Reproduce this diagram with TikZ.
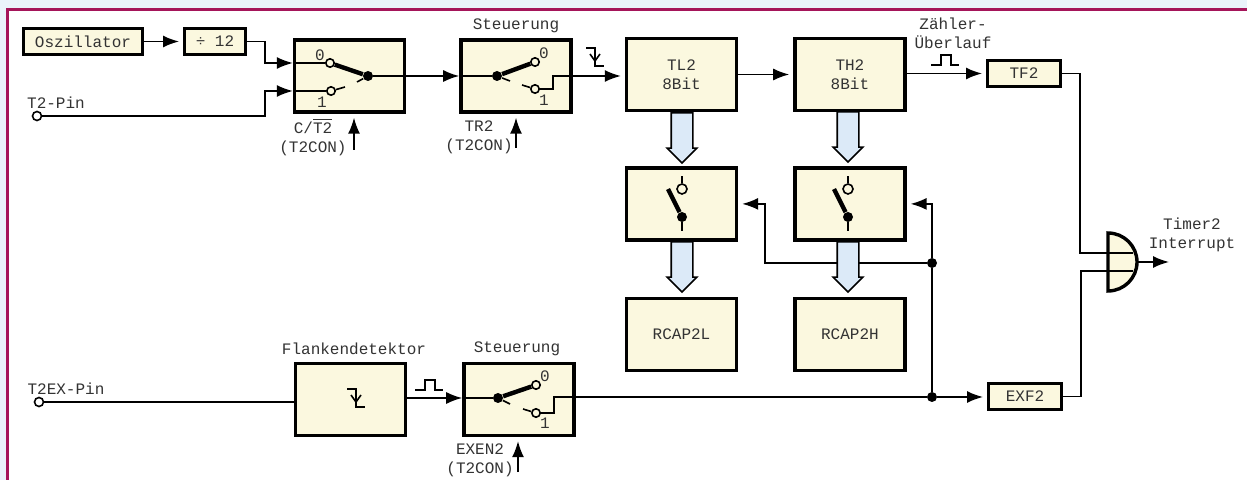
\documentclass[tikz,border=0pt]{standalone}
\usepackage{fontspec}
\setmainfont{Liberation Mono}
\usetikzlibrary{arrows.meta,positioning,shapes.arrows}
\definecolor{cream}{HTML}{FBF8DF}
\definecolor{busblue}{HTML}{DCEAF8}
\definecolor{pageblue}{HTML}{EAF3FB}
\definecolor{framered}{HTML}{A5155A}
\definecolor{inkgray}{HTML}{333333}
\tikzset{
  blk/.style={draw,rectangle,line width=1.7pt,fill=cream,minimum width=55pt,minimum height=36pt,
    align=center,font=\fontsize{8}{9.5}\selectfont,text=inkgray,inner sep=0pt},
  oscblk/.style={blk,minimum width=59.3pt,minimum height=12.8pt},
  divblk/.style={blk,minimum width=30.3pt,minimum height=12.8pt},
  flagblk/.style={blk,minimum width=36.3pt,minimum height=12.8pt},
  wire/.style={line width=.8pt},
  arr/.style={wire,-{Latex[length=8pt,width=6pt]}},
  arrgap/.style={arr,shorten >=2pt},
  lever/.style={line width=2.2pt},
  cnt/.style={circle,draw,line width=.8pt,fill=cream,minimum size=4.2pt,inner sep=0pt},
  pinnode/.style={cnt,fill=white,minimum size=4.5pt},
  hinge/.style={circle,fill=black,minimum size=5pt,inner sep=0pt},
  jnc/.style={hinge,minimum size=5pt},
  busarr/.style={single arrow,draw,line width=.8pt,fill=busblue,minimum height=25pt,
    single arrow head extend=2pt,inner xsep=0pt,inner ysep=5pt,rotate=-90},
  lbl/.style={font=\fontsize{8}{9.5}\selectfont,text=inkgray,align=center,inner sep=0pt},
  num/.style={font=\fontsize{8}{9}\selectfont,text=inkgray,inner sep=0pt},
  flanke/.pic={
    \draw[line width=.8pt] (-9,-9) -- (0,-9) -- (0,9) -- (9,9);
    \draw[line width=.8pt] (-5,-3) -- (0,4) -- (5,-3);
  },
  impuls/.pic={
    \draw[line width=.8pt] (-14,5) -- (-4,5) -- (-4,-5) -- (6,-5) -- (6,5) -- (14,5);
  }
}
\begin{document}
\begin{tikzpicture}[x=.5pt,y=-.5pt]
  \useasboundingbox (0,0) rectangle (1247,480);
  \fill[pageblue] (0,0) rectangle (1247,480);
  \fill[white] (7,9) rectangle (1247,480);
  \draw[framered,line width=1.5pt] (7.5,480) -- (7.5,9.7) -- (1247,9.7);

  % top row
  \node[oscblk] (osc) at (83,41.5) {Oszillator};
  \node[divblk, right=19.5pt of osc] (div) {÷ 12};
  \node[blk] (swA) at (349.5,76) {};
  \node[blk, right=26.5pt of swA] (ctrlA) {};
  \node[blk] (tl) at (681.5,74.5) {TL2\\8Bit};
  \node[blk, right=27.5pt of tl] (th) {TH2\\8Bit};
  \node[flagblk] (tf) at (1024,73.5) {TF2};

  % capture switches and registers
  \node[blk, below=27pt of tl] (swL) {};
  \node[blk, below=27pt of th] (swH) {};
  \node[blk, below=27.5pt of swL] (rcL) {RCAP2L};
  \node[blk, below=27.5pt of swH] (rcH) {RCAP2H};

  % bottom row
  \node[blk] (flk) at (350.5,399.5) {};
  \node[blk, right=27.5pt of flk] (ctrlB) {};
  \node[flagblk] (exf) at (1025,396.5) {EXF2};

  % gate
  \draw[line width=1.7pt,fill=cream] (1108,233) arc[start angle=90,end angle=-90,radius=14.5pt] -- cycle;
  \coordinate (gateA) at (1133,253);
  \coordinate (gateB) at (1133,271);
  \coordinate (gateOut) at (1137,262);
  \coordinate (timerOut) at (1169,262);

  % contacts
  \node[pinnode] (pinT) at (37,116) {};
  \node[pinnode] (pinEx) at (39,402) {};
  \node[cnt] (swAzero) at (330,63) {};
  \node[cnt] (swAone) at (331,91) {};
  \node[hinge] (swAhinge) at (368,76) {};
  \node[cnt] (ctrlAzero) at (535,62) {};
  \node[cnt] (ctrlAone) at (535,89) {};
  \node[hinge] (ctrlAhinge) at (497,76) {};
  \node[cnt] (ctrlBzero) at (536,385) {};
  \node[cnt] (ctrlBone) at (536,413) {};
  \node[hinge] (ctrlBhinge) at (498,398) {};
  \node[cnt,minimum size=5pt] (swLzero) at (682,189) {};
  \node[hinge] (swLhinge) at (682,217) {};
  \node[cnt,minimum size=5pt] (swHzero) at (848,189) {};
  \node[hinge] (swHhinge) at (848,217) {};
  \node[jnc] (jncA) at (932,263) {};
  \node[jnc] (jncB) at (932,397) {};
  \coordinate (tapL) at (765,263);

  % levers and stubs
  \draw[lever] (swAzero) -- (swAhinge);
  \draw[lever] (ctrlAzero) -- (ctrlAhinge);
  \draw[lever] (ctrlBzero) -- (ctrlBhinge);
  \draw[lever] (668,189) -- (swLhinge);
  \draw[lever] (834,189) -- (swHhinge);
  \draw[wire] (swAone) -- ++(14,-4);
  \draw[wire] (swAhinge) -- ++(-11,6);
  \draw[wire] (ctrlAone) -- ++(-13,-4);
  \draw[wire] (ctrlAhinge) -- ++(13,5);
  \draw[wire] (ctrlBone) -- ++(-13,-4);
  \draw[wire] (ctrlBhinge) -- ++(12,6);
  \draw[wire] (swLzero) -- ++(0,-13);
  \draw[wire] (swLhinge) -- ++(0,14);
  \draw[wire] (swHzero) -- ++(0,-13);
  \draw[wire] (swHhinge) -- ++(0,14);

  % connectors
  \draw[arrgap] (osc) -- (div);
  \draw[arr] (div.east) -| (265,63) -- (swA.west |- swAzero);
  \draw[wire] (swA.west |- swAzero) -- (swAzero);
  \draw[arr] (pinT) -| (265,91) -- (swA.west |- swAone);
  \draw[wire] (swA.west |- swAone) -- (swAone);
  \draw[arr] (swAhinge) -- (ctrlA.west |- swAhinge);
  \draw[wire] (ctrlA.west |- swAhinge) -- (ctrlAhinge);
  \draw[arrgap] (ctrlAone) -| (553,76) -- (tl.west |- swAhinge);
  \draw[arrgap] (tl) -- (th);
  \draw[arrgap] (th.east |- tf) -- (tf);
  \draw[wire] (tf.east) -| (1080,253) -- (gateA);
  \draw[wire] (pinEx) -- (flk.west |- pinEx);
  \draw[arr] (flk.east |- ctrlBhinge) -- (ctrlB.west |- ctrlBhinge);
  \draw[wire] (ctrlB.west |- ctrlBhinge) -- (ctrlBhinge);
  \draw[wire] (ctrlBone) -| (554,397) -- (jncB);
  \draw[arrgap] (jncB) -- (exf.west |- jncB);
  \draw[wire] (exf.east) -| (1081,271) -- (gateB);
  \draw[arr] (gateOut) -- (timerOut);
  \draw[wire] (jncB) -- (jncA);
  \draw[arrgap] (jncA) |- (swH.east);
  \draw[arrgap] (jncA) -- (tapL) |- (swL.east);

  % bus arrows
  \node[busarr] (busTL) at (682,132.5) {};
  \node[busarr] (busTH) at (848,131.5) {};
  \node[busarr] (busSL) at (682,261.5) {};
  \node[busarr] (busSH) at (848,261.5) {};

  % labels
  \node[lbl] (lblPinT) at (56,103) {T2-Pin};
  \node[lbl] (lblPinEx) at (66,389) {T2EX-Pin};
  \node[lbl] (lblSelect) at (313,137) {C/$\overline{\mbox{T2}}$\\(T2CON)};
  \node[lbl] (lblRun) at (479,137) {TR2\\(T2CON)};
  \node[lbl] (lblExen) at (480,460) {EXEN2\\(T2CON)};
  \node[lbl] (lblCtrlA) at (516,26) {Steuerung};
  \node[lbl] (lblCtrlB) at (517,349) {Steuerung};
  \node[lbl] (lblFlk) at (354,349) {Flankendetektor};
  \node[lbl] (lblOver) at (953,33) {Zähler-\\Überlauf};
  \node[lbl] (lblTimer) at (1192,235) {Timer2\\Interrupt};
  \node[num] (numAzero) at (320,55) {0};
  \node[num] (numAone) at (322,102) {1};
  \node[num] (numCzero) at (544,53) {0};
  \node[num] (numCone) at (544,100) {1};
  \node[num] (numBzero) at (545,376) {0};
  \node[num] (numBone) at (545,423) {1};

  % control inputs
  \coordinate (ctlA) at (354,150);
  \coordinate (ctlC) at (516,148);
  \coordinate (ctlB) at (518,472);
  \draw[arrgap] (ctlA) -- (swA.south -| ctlA);
  \draw[arrgap] (ctlC) -- (ctrlA.south -| ctlC);
  \draw[arrgap] (ctlB) -- (ctrlB.south -| ctlB);

  % edge symbols
  \pic at (595,57) {flanke};
  \pic at (356,398) {flanke};
  \pic at (945,60) {impuls};
  \pic at (429,385) {impuls};
\end{tikzpicture}
\end{document}
